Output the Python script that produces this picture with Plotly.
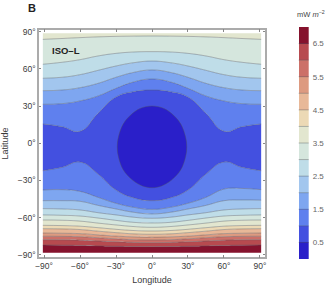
import plotly.graph_objects as go

W, H = 327, 287

lons = [-91, -75, -60, -45, -30, -15, 0, 15, 30, 45, 60, 75, 91]
lat_bottom = [-88.4] * 13
lat_top = [88.8] * 13

# contour lines (latitude at each longitude)
s65 = [-82.2, -82.3, -82.5, -82.9, -83.2, -83.4, -83.5, -83.4, -83.2, -82.9, -82.5, -82.3, -82.2]
s60 = [-77.9, -78.0, -78.3, -79.0, -79.6, -80.1, -80.3, -80.1, -79.6, -79.0, -78.3, -78.0, -77.9]
s55 = [-75.1, -75.2, -75.5, -76.3, -77.2, -77.9, -78.1, -77.9, -77.2, -76.3, -75.5, -75.2, -75.1]
s50 = [-72.5, -72.7, -73.0, -74.0, -75.0, -75.6, -75.9, -75.6, -75.0, -74.0, -73.0, -72.7, -72.5]
s45 = [-69.0, -69.2, -69.7, -71.0, -72.2, -73.2, -73.5, -73.2, -72.2, -71.0, -69.7, -69.2, -69.0]
s40 = [-66.3, -66.5, -67.0, -68.2, -69.5, -70.5, -70.9, -70.5, -69.5, -68.2, -67.0, -66.5, -66.3]
s35 = [-62.0, -62.2, -62.9, -64.5, -66.0, -67.3, -67.9, -67.3, -66.0, -64.5, -62.9, -62.2, -62.0]
s30 = [-57.9, -58.2, -58.8, -60.4, -62.3, -63.9, -64.4, -63.9, -62.3, -60.4, -58.8, -58.2, -57.9]
s25 = [-52.8, -53.1, -53.9, -56.1, -57.9, -59.8, -60.6, -59.8, -57.9, -56.1, -53.9, -53.1, -52.8]
s20 = [-46.4, -46.4, -46.9, -50.2, -53.1, -55.8, -57.1, -55.8, -53.1, -50.2, -46.4, -45.8, -46.0]
s15 = [-37.8, -37.5, -38.9, -43.7, -48.5, -51.8, -53.4, -51.8, -48.5, -43.7, -37.0, -36.5, -37.5]
s10 = [-22.2, -19.5, -15.2, -24.9, -37.8, -44.2, -46.4, -44.2, -37.8, -24.9, -15.2, -19.5, -22.2]
n10 = [15.5, 13.3, 9.6, 24.1, 37.3, 41.6, 42.9, 41.6, 37.3, 24.1, 9.6, 13.3, 15.5]
n15 = [31.4, 31.9, 34.1, 38.1, 44.3, 49.5, 51.8, 49.5, 44.3, 38.1, 34.1, 31.9, 31.4]
n20 = [42.4, 42.9, 44.8, 48.3, 53.2, 57.2, 59.1, 57.2, 53.2, 48.3, 44.8, 42.9, 42.4]
n25 = [52.4, 53.2, 55.3, 58.8, 62.3, 65.0, 66.3, 65.0, 62.3, 58.8, 55.3, 53.2, 52.4]
n30 = [63.7, 65.3, 67.4, 70.4, 72.5, 73.6, 73.9, 73.6, 72.5, 70.4, 67.4, 65.3, 63.7]
n35 = [83.8, 84.5, 85.2, 85.8, 86.2, 86.4, 86.5, 86.4, 86.2, 85.8, 85.2, 84.5, 83.8]

ellipse_lon = [0, 10, 18, 24, 28, 29, 28, 24, 16, 8, 0, -8, -16, -24, -28, -29, -28, -24, -18, -10, 0]
ellipse_lat = [30, 28, 22.5, 15.5, 5, -3, -11, -21.5, -30, -34.5, -36, -34.5, -30, -21.5, -11, -3, 5, 15.5, 22.5, 28, 30]

band_low = [0, 0.5, 1, 1.5, 2, 2.5, 3, 3.5, 4, 4.5, 5, 5.5, 6, 6.5]
band_colors = ["#2a1fc9", "#4350e0", "#5f80ee", "#7ea6f0", "#a2c6ee", "#bfdde8", "#d5e6dd",
               "#e2e6cf", "#ecd9b5", "#e8b898", "#dd9a80", "#cc7068", "#b74a4f", "#85122d"]
col = dict(zip(band_low, band_colors))

# stacked from south to north: (line, colour of the band beneath it)
stack = [(s65, col[6.5]), (s60, col[6]), (s55, col[5.5]), (s50, col[5]), (s45, col[4.5]),
         (s40, col[4]), (s35, col[3.5]), (s30, col[3]), (s25, col[2.5]), (s20, col[2]),
         (s15, col[1.5]), (s10, col[1]), (n10, col[0.5]), (n15, col[1]), (n20, col[1.5]),
         (n25, col[2]), (n30, col[2.5]), (n35, col[3]), (lat_top, col[3.5])]

lon_ticks = [-90, -60, -30, 0, 30, 60, 90]
lon_text = ["−90°", "−60°", "−30°", "0°", "30°", "60°", "90°"]
lat_ticks = [-90, -60, -30, 0, 30, 60, 90]
lat_text = ["−90°", "−60°", "−30°", "0°", "30°", "60°", "90°"]
cb_ticks = [0.5, 1.5, 2.5, 3.5, 4.5, 5.5, 6.5]

FONT = "Liberation Sans, Arial, sans-serif"
TXT = "#3a3a3a"
FRAME = "#ababab"
LINE = "rgba(80,85,95,0.5)"

fig = go.Figure()
fig.add_trace(go.Scatter(x=lons, y=lat_bottom, mode="lines", line=dict(width=0), showlegend=False))
for i, (lat, color) in enumerate(stack):
    last = i == len(stack) - 1
    fig.add_trace(go.Scatter(
        x=lons, y=lat, mode="lines", fill="tonexty", fillcolor=color,
        line=dict(color=LINE, width=0 if last else 0.8, shape="linear" if last else "spline", smoothing=1.3),
        showlegend=False))
fig.add_trace(go.Scatter(
    x=ellipse_lon, y=ellipse_lat, mode="lines", fill="toself", fillcolor=col[0],
    line=dict(color=LINE, width=0.8, shape="spline", smoothing=1.0), showlegend=False))

fig.add_trace(go.Bar(
    x=[0] * len(band_low), y=[0.5] * len(band_low), base=band_low, width=1,
    marker=dict(color=band_colors, line=dict(width=0)),
    xaxis="x2", yaxis="y2", showlegend=False))

shapes = [dict(type="line", xref="x2 domain", yref="y2", x0=0, x1=1, y0=v, y1=v,
               line=dict(color=LINE, width=0.8), layer="above") for v in band_low[1:]]

axis_common = dict(showgrid=False, zeroline=False, showline=True, linecolor=FRAME, linewidth=1.5,
                   mirror="ticks", ticks="inside", ticklen=2.5, tickwidth=1, tickcolor="#888888",
                   automargin=False, tickfont=dict(family=FONT, size=8.5, color=TXT))

fig.update_layout(
    width=W, height=H, autosize=False,
    margin=dict(l=0, r=0, t=0, b=0, autoexpand=False),
    paper_bgcolor="white", plot_bgcolor="white",
    barmode="overlay", bargap=0, shapes=shapes,
    font=dict(family=FONT, size=9, color=TXT),
    xaxis=dict(domain=[39 / W, 265 / W], range=[-94.2, 94.2], tickvals=lon_ticks, ticktext=lon_text,
               title=dict(text="Longitude", font=dict(size=9, color=TXT), standoff=6), **axis_common),
    yaxis=dict(domain=[1 - 257.3 / H, 1 - 29.7 / H], range=[-92.1, 91.6], tickvals=lat_ticks, ticktext=lat_text,
               title=dict(text="Latitude", font=dict(size=9, color=TXT), standoff=8), **axis_common),
    xaxis2=dict(domain=[298.7 / W, 308.7 / W], range=[-0.5, 0.5], visible=False, anchor="y2", automargin=False),
    yaxis2=dict(domain=[1 - 259 / H, 1 - 27 / H], range=[0, 7], anchor="x2", side="right", automargin=False,
                tickvals=cb_ticks, ticktext=[str(v) for v in cb_ticks], showgrid=False, zeroline=False,
                showline=False, ticks="", ticklabelstandoff=3, tickfont=dict(family=FONT, size=8, color="#666666")),
    annotations=[
        dict(text="<b>B</b>", xref="paper", yref="paper", x=26 / W, y=1 - 8 / H, xanchor="left", yanchor="middle",
             showarrow=False, font=dict(family=FONT, size=11, color="#222222")),
        dict(text="<b>ISO–L</b>", xref="paper", yref="paper", x=50 / W, y=1 - 50 / H, xanchor="left", yanchor="middle",
             showarrow=False, font=dict(family=FONT, size=9.5, color="#222222")),
        dict(text="mW <i>m</i><sup>−2</sup>", xref="paper", yref="paper", x=295 / W, y=1 - 14 / H, xanchor="left",
             yanchor="middle", showarrow=False, font=dict(family=FONT, size=7.5, color="#444444")),
    ],
)

fig.write_html("out.html", config={"displayModeBar": False},
               post_script="document.body.style.margin='0';document.documentElement.style.overflow='hidden';")
